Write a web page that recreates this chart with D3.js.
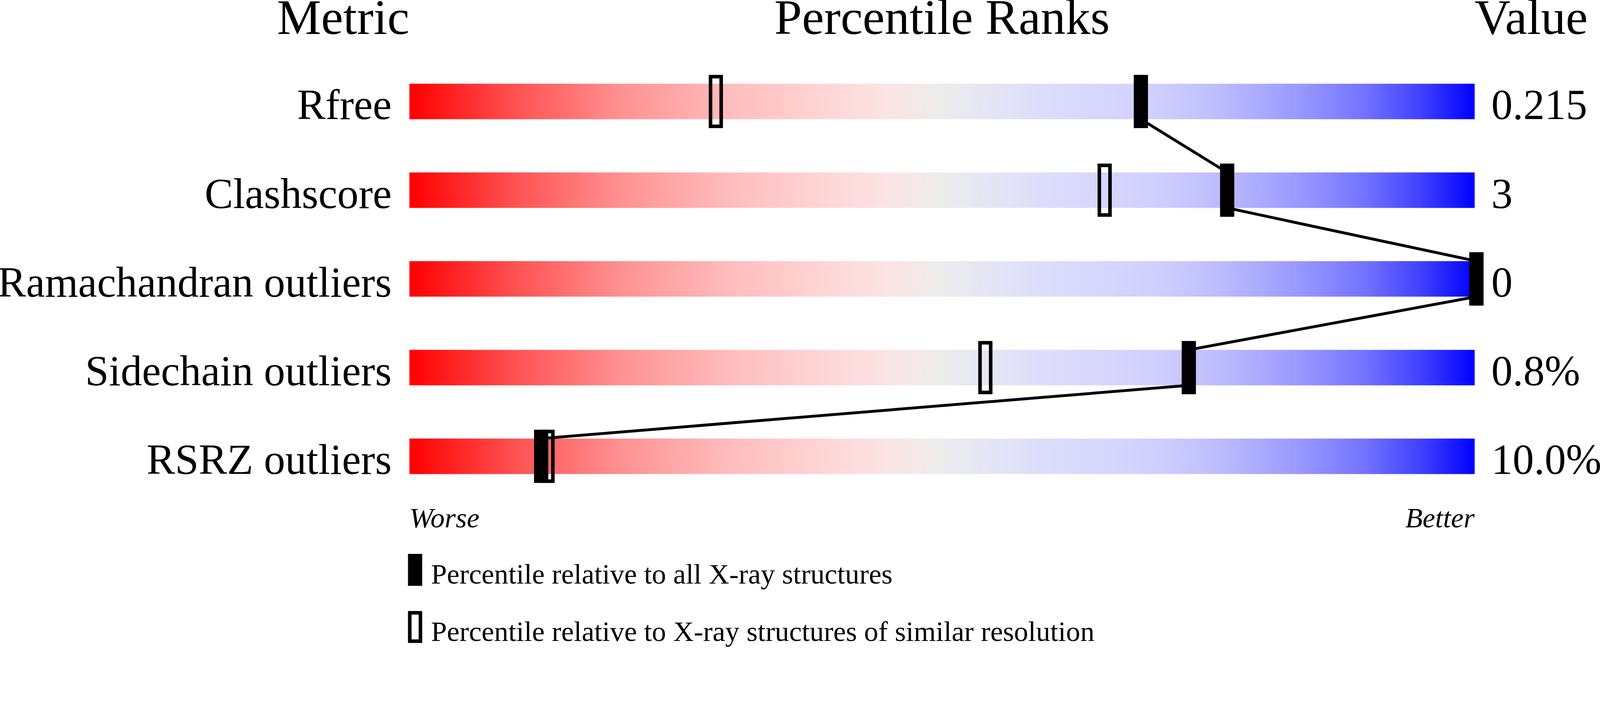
<!DOCTYPE html>
<html>
<head>
<meta charset="utf-8">
<script src="https://cdn.jsdelivr.net/npm/d3@7"></script>
<style>
  html, body { margin: 0; padding: 0; background: #ffffff; overflow: hidden; }
  svg { display: block; width: 100vw; height: 100vh; }
</style>
</head>
<body>
<div id="chart"></div>
<script>
// data
const metrics = ['Rfree', 'Clashscore', 'Ramachandran outliers', 'Sidechain outliers', 'RSRZ outliers'];
const values = ['0.215', '3', '0', '0.8%', '10.0%'];
const pct_all = [68.5, 76.6, 100, 73.0, 12.2];       // filled markers
const pct_similar = [28.6, 65.1, 100, 53.9, 12.8];   // open markers
const headers = ['Metric', 'Percentile Ranks', 'Value'];
const legend_labels = ['Percentile relative to all X-ray structures',
                       'Percentile relative to X-ray structures of similar resolution'];

const grad_stops = [
    [0, '#ff0000'], [0.1, '#ff5252'], [0.2, '#ff9292'], [0.3, '#ffbcbc'],
    [0.4, '#ffd8d8'], [0.45, '#fbe4e4'], [0.5, '#ececec'], [0.55, '#e4e4f6'],
    [0.6, '#dcdcfc'], [0.7, '#d0d0ff'], [0.75, '#c0c0ff'], [0.8, '#aaaaff'],
    [0.85, '#9090ff'], [0.9, '#7070ff'], [0.95, '#4040ff'], [1, '#0000ff']
];

const width = 4506, height = 1824;
const font = "'Liberation Serif', 'Times New Roman', Times, serif";
const bar_x0 = 1153, bar_w = 3000, bar_h = 100;

// viewBox so the drawing fills the window whatever the pixel ratio is
const svg = d3.select('#chart')
    .append('svg')
    .attr('viewBox', `0 0 ${width} ${height}`)
    .attr('preserveAspectRatio', 'xMidYMin meet')
    .style('font-family', font);

const defs = svg.append('defs');
const grad = defs.append('linearGradient')
    .attr('id', 'rank-grad')
    .attr('x1', '0%').attr('x2', '100%')
    .attr('y1', '0%').attr('y2', '0%');
grad.selectAll('stop')
    .data(grad_stops)
    .enter()
    .append('stop')
    .attr('offset', d => d[0] * 100 + '%')
    .attr('stop-color', d => d[1]);

// row centres
var y = d3.scalePoint()
    .domain(metrics)
    .range([286, 1286]);

// marker positions along the bar
var x = d3.scaleLinear()
    .domain([0, 100])
    .range([bar_x0 + 5, bar_x0 + bar_w + 5]);

// headers
svg.append('text')
    .text(headers[0])
    .attr('x', bar_x0)
    .attr('y', 96)
    .attr('text-anchor', 'end')
    .style('font-size', '140px');
svg.append('text')
    .text(headers[1])
    .attr('x', bar_x0 + bar_w / 2)
    .attr('y', 96)
    .attr('text-anchor', 'middle')
    .style('font-size', '140px');
svg.append('text')
    .text(headers[2])
    .attr('x', bar_x0 + bar_w)
    .attr('y', 96)
    .attr('text-anchor', 'start')
    .style('font-size', '140px');

// bars
svg.selectAll('.rank-bar')
    .data(metrics)
    .enter()
    .append('rect')
    .attr('class', 'rank-bar')
    .attr('x', bar_x0)
    .attr('y', d => y(d) - bar_h / 2)
    .attr('width', bar_w)
    .attr('height', bar_h)
    .attr('fill', 'url(#rank-grad)');

// metric labels
svg.selectAll('.metric-label')
    .data(metrics)
    .enter()
    .append('text')
    .attr('class', 'metric-label')
    .text(d => d)
    .attr('x', bar_x0 - 50)
    .attr('y', d => y(d) + bar_h / 2)
    .attr('text-anchor', 'end')
    .style('font-size', '120px');

// value labels
svg.selectAll('.value-label')
    .data(values)
    .enter()
    .append('text')
    .attr('class', 'value-label')
    .text(d => d)
    .attr('x', bar_x0 + bar_w + 47)
    .attr('y', (d, i) => y(metrics[i]) + bar_h / 2)
    .attr('text-anchor', 'start')
    .style('font-size', '120px');

// connecting line through the filled markers
var line_pts = [];
metrics.forEach(function(m, i) {
    line_pts.push([x(pct_all[i]), y(m) - bar_h / 2]);
    line_pts.push([x(pct_all[i]), y(m) + bar_h / 2]);
});
svg.append('path')
    .datum(line_pts)
    .attr('d', d3.line())
    .attr('fill', 'none')
    .attr('stroke', 'black')
    .attr('stroke-width', 8);

// open markers (similar resolution)
svg.selectAll('.mark-similar')
    .data(metrics)
    .enter()
    .append('rect')
    .attr('class', 'mark-similar')
    .attr('x', (d, i) => x(pct_similar[i]) - 15)
    .attr('y', d => y(d) - bar_h / 2 - 20)
    .attr('width', 30)
    .attr('height', bar_h + 40)
    .attr('fill', 'none')
    .attr('stroke', 'black')
    .attr('stroke-width', 10);

// filled markers (all structures)
svg.selectAll('.mark-all')
    .data(metrics)
    .enter()
    .append('rect')
    .attr('class', 'mark-all')
    .attr('x', (d, i) => x(pct_all[i]) - 20)
    .attr('y', d => y(d) - bar_h / 2 - 25)
    .attr('width', 40)
    .attr('height', bar_h + 50)
    .attr('fill', 'black');

// worse / better
svg.append('text')
    .text('Worse')
    .attr('x', bar_x0)
    .attr('y', 1486)
    .style('font-style', 'italic')
    .style('font-size', '80px');
svg.append('text')
    .text('Better')
    .attr('x', bar_x0 + bar_w)
    .attr('y', 1486)
    .attr('text-anchor', 'end')
    .style('font-style', 'italic')
    .style('font-size', '80px');

// legend
const legend = svg.append('g').attr('class', 'legend');
legend.append('rect')
    .attr('x', 1149)
    .attr('y', 1561)
    .attr('width', 40)
    .attr('height', 90)
    .attr('fill', 'black');
legend.append('rect')
    .attr('x', 1154)
    .attr('y', 1727)
    .attr('width', 30)
    .attr('height', 80)
    .attr('fill', 'none')
    .attr('stroke', 'black')
    .attr('stroke-width', 10);
legend.selectAll('.legend-text')
    .data(legend_labels)
    .enter()
    .append('text')
    .attr('class', 'legend-text')
    .text(d => d)
    .attr('x', 1214)
    .attr('y', (d, i) => 1645 + i * 161)
    .style('font-size', '80px');
</script>
</body>
</html>
